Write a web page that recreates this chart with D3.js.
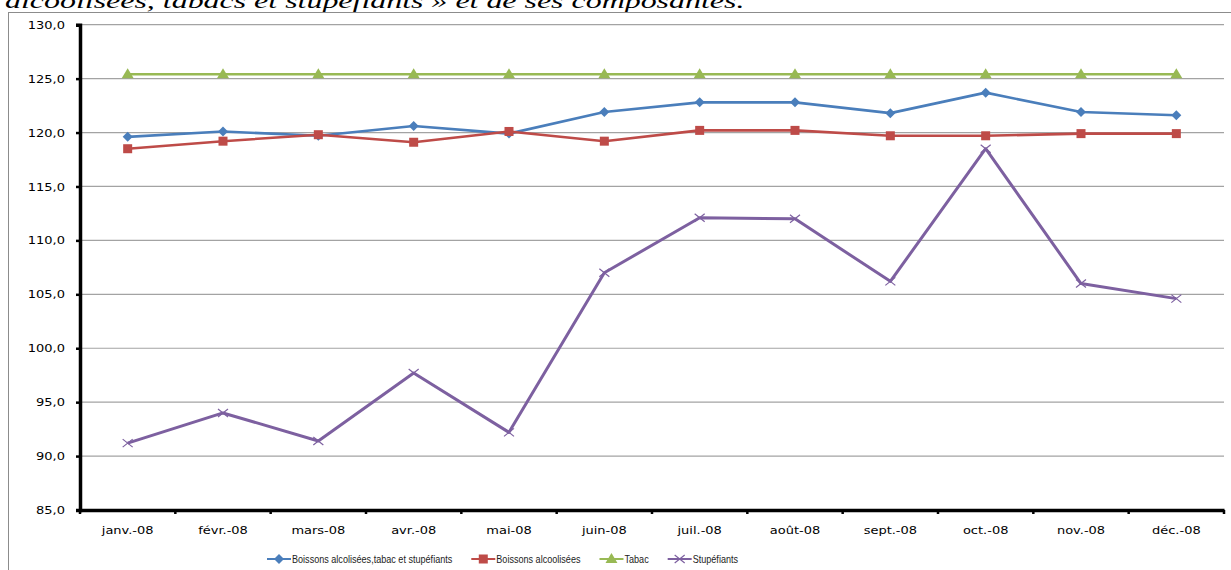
<!DOCTYPE html>
<html>
<head>
<meta charset="utf-8">
<script src="https://cdn.jsdelivr.net/npm/d3@7"></script>
<style>
  body { margin: 0; background: #fff; }
  svg { display: block; }
</style>
</head>
<body>
<div id="chart"></div>
<script>
var months = ["janv.-08", "févr.-08", "mars-08", "avr.-08", "mai-08", "juin-08",
              "juil.-08", "août-08", "sept.-08", "oct.-08", "nov.-08", "déc.-08"];
var total = [119.6, 120.1, 119.7, 120.6, 119.9, 121.9, 122.8, 122.8, 121.8, 123.7, 121.9, 121.6];
var boissons = [118.5, 119.2, 119.8, 119.1, 120.1, 119.2, 120.2, 120.2, 119.7, 119.7, 119.9, 119.9];
var tabac = [125.4, 125.4, 125.4, 125.4, 125.4, 125.4, 125.4, 125.4, 125.4, 125.4, 125.4, 125.4];
var stupefiants = [91.2, 94.0, 91.4, 97.7, 92.2, 107.0, 112.1, 112.0, 106.2, 118.5, 106.0, 104.6];
var yTicks = [85, 90, 95, 100, 105, 110, 115, 120, 125, 130];
var seriesNames = ["Boissons alcolisées,tabac et stupéfiants", "Boissons alcoolisées", "Tabac", "Stupéfiants"];
var titleText = "alcoolisées, tabacs et stupéfiants » et de ses composantes.";

var svgWidth = 1231;
var svgHeight = 570;
var margin = { top: 24.7, left: 80, right: 7, bottom: 60 };
var plotRight = svgWidth - margin.right;
var plotBottom = 510;
var stretch = 1.3; // the picture's axis glyphs are wide

var series = [
    { name: seriesNames[0], values: total, color: "#4a7ebb", marker: "diamond", width: 2.6 },
    { name: seriesNames[1], values: boissons, color: "#be4b48", marker: "square", width: 2.6 },
    { name: seriesNames[2], values: tabac, color: "#98b954", marker: "triangle", width: 2.6 },
    { name: seriesNames[3], values: stupefiants, color: "#7d60a0", marker: "cross", width: 3 }
];

var svg = d3.select("#chart")
    .append("svg")
    .attr("width", svgWidth)
    .attr("height", svgHeight);

// Title fragment (only its lower part shows)
var title = svg.append("text")
    .attr("font-family", "Liberation Serif, serif")
    .attr("font-style", "italic")
    .attr("font-size", "22px")
    .attr("fill", "#000")
    .text(titleText);
var tw = title.node().getComputedTextLength();
title.attr("transform", `translate(5, 7.5) scale(${740 / tw}, 1)`);

// Chart frame
svg.append("rect")
    .attr("x", 8.5)
    .attr("y", 12.5)
    .attr("width", 1300)
    .attr("height", 700)
    .attr("fill", "none")
    .attr("stroke", "#8c8c8c")
    .attr("stroke-width", 1);

var x = d3.scaleBand()
    .domain(months)
    .range([margin.left, plotRight]);

var y = d3.scaleLinear()
    .domain([85, 130])
    .range([plotBottom, margin.top]);

function cx(i) { return x(months[i]) + x.bandwidth() / 2; }

// Gridlines
svg.append("g")
    .selectAll("line")
    .data(yTicks.slice(1))
    .enter()
    .append("line")
    .attr("x1", margin.left)
    .attr("x2", plotRight)
    .attr("y1", d => y(d))
    .attr("y2", d => y(d))
    .attr("stroke", "#a3a3a3")
    .attr("stroke-width", 1.2);

// Y axis
var leftAxis = d3.axisLeft(y)
    .tickValues(yTicks)
    .tickSize(4)
    .tickPadding(0)
    .tickFormat(d => d3.format(".1f")(d).replace(".", ","));

var yAxis = svg.append("g")
    .attr("transform", `translate(${margin.left}, 0)`)
    .call(leftAxis);
yAxis.select(".domain").attr("stroke", "#000").attr("stroke-width", 3.5);
yAxis.selectAll(".tick line").attr("stroke", "#000").attr("stroke-width", 2.5);
yAxis.selectAll(".tick text")
    .attr("font-family", "DejaVu Sans, sans-serif")
    .attr("font-size", "10px")
    .attr("fill", "#000")
    .attr("x", null)
    .attr("dy", null)
    .attr("transform", `translate(-15, 3.6) scale(${stretch}, 1)`);

// X axis
var bottomAxis = d3.axisBottom(x).tickSize(0).tickPadding(0);
var xAxis = svg.append("g")
    .attr("transform", `translate(0, ${plotBottom})`)
    .call(bottomAxis);
xAxis.select(".domain").attr("stroke", "#000").attr("stroke-width", 3.5);
xAxis.selectAll(".tick text")
    .attr("font-family", "DejaVu Sans, sans-serif")
    .attr("font-size", "10px")
    .attr("fill", "#000")
    .attr("y", null)
    .attr("dy", null)
    .attr("transform", `translate(0, 24) scale(${stretch}, 1)`);

// Boundary ticks on the x axis
svg.append("g")
    .selectAll("line")
    .data(months.map(m => x(m)).concat([plotRight]))
    .enter()
    .append("line")
    .attr("x1", d => d)
    .attr("x2", d => d)
    .attr("y1", plotBottom)
    .attr("y2", plotBottom + 4)
    .attr("stroke", "#000")
    .attr("stroke-width", 2.5);

// Lines
var line = d3.line()
    .x((d, i) => cx(i))
    .y(d => y(d));

function drawMarker(g, type, color, px, py) {
    if (type === "diamond") {
        g.append("path")
            .attr("d", `M${px},${py - 5}L${px + 5},${py}L${px},${py + 5}L${px - 5},${py}Z`)
            .attr("fill", color);
    } else if (type === "square") {
        g.append("rect")
            .attr("x", px - 4.5).attr("y", py - 4.5)
            .attr("width", 9).attr("height", 9)
            .attr("fill", color);
    } else if (type === "triangle") {
        g.append("path")
            .attr("d", `M${px},${py - 6}L${px + 6},${py + 4}L${px - 6},${py + 4}Z`)
            .attr("fill", color);
    } else {
        g.append("path")
            .attr("d", `M${px - 5},${py - 4}L${px + 5},${py + 4}M${px - 5},${py + 4}L${px + 5},${py - 4}`)
            .attr("stroke", color)
            .attr("stroke-width", 1.2)
            .attr("fill", "none");
    }
}

series.forEach(s => {
    var g = svg.append("g");
    g.append("path")
        .datum(s.values)
        .attr("d", line)
        .attr("fill", "none")
        .attr("stroke", s.color)
        .attr("stroke-width", s.width)
        .attr("stroke-linejoin", "round");
    s.values.forEach((v, i) => drawMarker(g, s.marker, s.color, cx(i), y(v)));
});

// Legend
var legendScale = 0.84; // narrow glyphs in the legend
var legend = svg.append("g").attr("transform", "translate(267, 559)");
var lx = 0;
series.forEach(s => {
    var item = legend.append("g").attr("transform", `translate(${lx}, 0)`);
    item.append("line")
        .attr("x1", 0).attr("x2", 24)
        .attr("y1", 0).attr("y2", 0)
        .attr("stroke", s.color)
        .attr("stroke-width", 2);
    drawMarker(item, s.marker, s.color, 12, 0);
    var t = item.append("text")
        .attr("transform", `translate(25, 3.8) scale(${legendScale}, 1)`)
        .attr("font-family", "Liberation Sans, Arial, sans-serif")
        .attr("font-size", "10.8px")
        .attr("fill", "#222")
        .text(s.name);
    lx += 25 + t.node().getComputedTextLength() * legendScale + 19;
});
</script>
</body>
</html>
